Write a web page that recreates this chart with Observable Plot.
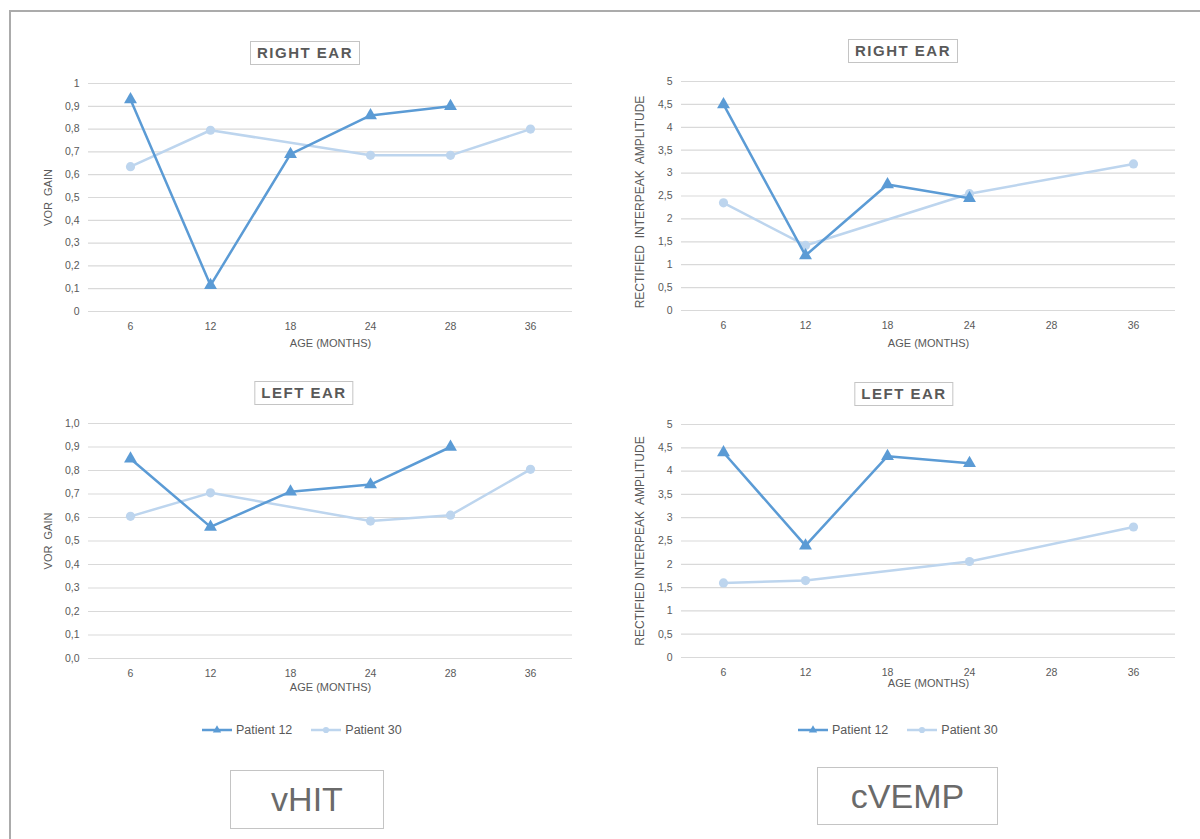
<!DOCTYPE html>
<html>
<head>
<meta charset="utf-8">
<script src="https://cdn.jsdelivr.net/npm/d3@7"></script>
<script src="https://cdn.jsdelivr.net/npm/@observablehq/plot@0.6"></script>
<style>
  body { margin: 0; background: #fff; font-family: "Liberation Sans", Arial, sans-serif; }
  #page { position: relative; width: 1200px; height: 839px; overflow: hidden; }
  .abs { position: absolute; }
  .ptitle { position: absolute; border: 1.5px solid #c4c4c4; color: #595959; font-size: 15px; letter-spacing: 1.5px; font-weight: bold; padding: 2px 6px; line-height: 18px; transform: translateX(-50%); white-space: nowrap; }
  .bigbox { position: absolute; border: 1.5px solid #c4c4c4; color: #6a6a6a; font-size: 34px; display: flex; align-items: center; justify-content: center; }
  .legend { position: absolute; display: flex; align-items: center; font-size: 12.5px; color: #595959; }
  .legend span { margin-right: 18px; }
  svg { overflow: visible; }
</style>
</head>
<body>
<div id="page"></div>
<script>
// ---- data ----
const ages = ["6", "12", "18", "24", "28", "36"];
const seriesNames = ["Patient 12", "Patient 30"];
// vHIT VOR gain
const vhitRightP12 = [0.93, 0.115, 0.69, 0.86, 0.90, null];
const vhitRightP30 = [0.635, 0.795, null, 0.685, 0.685, 0.80];
const vhitLeftP12  = [0.85, 0.56, 0.71, 0.74, 0.90, null];
const vhitLeftP30  = [0.605, 0.705, null, 0.585, 0.61, 0.805];
// cVEMP rectified interpeak amplitude
const cvempRightP12 = [4.5, 1.2, 2.75, 2.45, null, null];
const cvempRightP30 = [2.35, 1.42, null, 2.55, null, 3.2];
const cvempLeftP12  = [4.4, 2.4, 4.32, 4.17, null, null];
const cvempLeftP30  = [1.6, 1.65, null, 2.06, null, 2.8];
// tick values
const vhitTicks = [0, 0.1, 0.2, 0.3, 0.4, 0.5, 0.6, 0.7, 0.8, 0.9, 1];
const cvempTicks = [0, 0.5, 1, 1.5, 2, 2.5, 3, 3.5, 4, 4.5, 5];

const C12 = "#5b9bd5";
const C30 = "#bdd5ee";
const TXT = "#595959";

const page = document.getElementById("page");

function toRows(vals, name) {
  return ages.map((a, i) => ({age: a, value: vals[i], series: name})).filter(d => d.value != null);
}

function panel({left, top, width, height, mL, mR, mT, mB, p12, p30, ticks, yMax, fmt, ylabel, yDx, yDy, yFont, xTitleDy}) {
  const r12 = toRows(p12, seriesNames[0]);
  const r30 = toRows(p30, seriesNames[1]);
  const chart = Plot.plot({
    width, height,
    marginLeft: mL, marginRight: mR, marginTop: mT, marginBottom: mB,
    style: {fontFamily: "'Liberation Sans', Arial, sans-serif", fontSize: "10.5px", color: TXT, background: "transparent", overflow: "visible"},
    x: {type: "point", domain: ages, padding: 0.5},
    y: {domain: [0, yMax]},
    marks: [
      Plot.ruleY(ticks, {stroke: "#d9d9d9", strokeWidth: 1.2}),
      Plot.ruleX([0], {frameAnchor: "left", stroke: "#d9d9d9", strokeWidth: 1.2}),
      Plot.axisY({ticks, tickSize: 0, tickPadding: 9, tickFormat: fmt, label: null, fill: TXT}),
      Plot.axisX({tickSize: 0, tickPadding: 11, label: null, fill: TXT}),
      Plot.line(r30, {x: "age", y: "value", stroke: C30, strokeWidth: 2.5}),
      Plot.dot(r30, {x: "age", y: "value", fill: C30, r: 4.6, symbol: "circle"}),
      Plot.line(r12, {x: "age", y: "value", stroke: C12, strokeWidth: 2.5}),
      Plot.dot(r12, {x: "age", y: "value", fill: C12, r: 4.8, symbol: "triangle"}),
      Plot.text(["AGE (MONTHS)"], {frameAnchor: "bottom", dy: xTitleDy, fill: TXT, fontSize: 11}),
      Plot.text([ylabel], {frameAnchor: "left", textAnchor: "middle", dx: yDx, dy: yDy, rotate: -90, fill: TXT, fontSize: yFont})
    ]
  });
  chart.style.position = "absolute";
  chart.style.left = left + "px";
  chart.style.top = top + "px";
  chart.style.overflow = "visible";
  page.appendChild(chart);
}

const fmtV1 = d => (d === 0 || d === 1) ? String(d) : d.toFixed(1).replace(".", ",");
const fmtV2 = d => d.toFixed(1).replace(".", ",");
const fmtC = d => String(d).replace(".", ",");

panel({left: 30, top: 70, width: 560, height: 290, mL: 58, mR: 18, mT: 13, mB: 49,
  p12: vhitRightP12, p30: vhitRightP30, ticks: vhitTicks, yMax: 1, fmt: fmtV1,
  ylabel: "VOR  GAIN", yDx: -40, yDy: 0, yFont: 11, xTitleDy: 35});
panel({left: 620, top: 70, width: 570, height: 290, mL: 61, mR: 15, mT: 11, mB: 50,
  p12: cvempRightP12, p30: cvempRightP30, ticks: cvempTicks, yMax: 5, fmt: fmtC,
  ylabel: "RECTIFIED  INTERPEAK  AMPLITUDE", yDx: -41, yDy: 6, yFont: 12, xTitleDy: 36});
panel({left: 30, top: 410, width: 560, height: 300, mL: 58, mR: 18, mT: 13, mB: 52,
  p12: vhitLeftP12, p30: vhitLeftP30, ticks: vhitTicks, yMax: 1, fmt: fmtV2,
  ylabel: "VOR  GAIN", yDx: -40, yDy: 0, yFont: 11, xTitleDy: 32});
panel({left: 620, top: 410, width: 570, height: 300, mL: 61, mR: 15, mT: 14, mB: 53,
  p12: cvempLeftP12, p30: cvempLeftP30, ticks: cvempTicks, yMax: 5, fmt: fmtC,
  ylabel: "RECTIFIED INTERPEAK  AMPLITUDE", yDx: -41, yDy: 0, yFont: 12, xTitleDy: 29});

// border (left + top)
const border = document.createElement("div");
border.className = "abs";
Object.assign(border.style, {left: "9px", top: "10px", width: "1200px", height: "840px", borderLeft: "2px solid #ababab", borderTop: "2px solid #ababab"});
page.appendChild(border);

// panel titles
[["RIGHT EAR", 305, 41], ["RIGHT EAR", 903, 39], ["LEFT EAR", 304, 381], ["LEFT EAR", 904, 382]].forEach(([t, cx, y]) => {
  const d = document.createElement("div");
  d.className = "ptitle";
  d.textContent = t;
  d.style.left = cx + "px";
  d.style.top = y + "px";
  page.appendChild(d);
});

// legends
function legend(left, top) {
  const d = document.createElement("div");
  d.className = "legend";
  d.style.left = left + "px";
  d.style.top = top + "px";
  seriesNames.forEach((name, i) => {
    const col = i === 0 ? C12 : C30;
    const sym = i === 0 ? d3.symbolTriangle : d3.symbolCircle;
    const svg = d3.create("svg").attr("width", 32).attr("height", 12).style("margin-right", "3px");
    svg.append("line").attr("x1", 1).attr("x2", 31).attr("y1", 6).attr("y2", 6).attr("stroke", col).attr("stroke-width", 2.5);
    svg.append("path").attr("d", d3.symbol(sym, 30)()).attr("transform", "translate(16,6)").attr("fill", col);
    d.appendChild(svg.node());
    const s = document.createElement("span");
    s.textContent = name;
    d.appendChild(s);
  });
  page.appendChild(d);
}
legend(201, 723);
legend(797, 723);

// method boxes
[["vHIT", 230, 770, 152, 57], ["cVEMP", 817, 767, 179, 56]].forEach(([t, x, y, w, h]) => {
  const d = document.createElement("div");
  d.className = "bigbox";
  d.textContent = t;
  Object.assign(d.style, {left: x + "px", top: y + "px", width: w + "px", height: h + "px"});
  page.appendChild(d);
});
</script>
</body>
</html>
